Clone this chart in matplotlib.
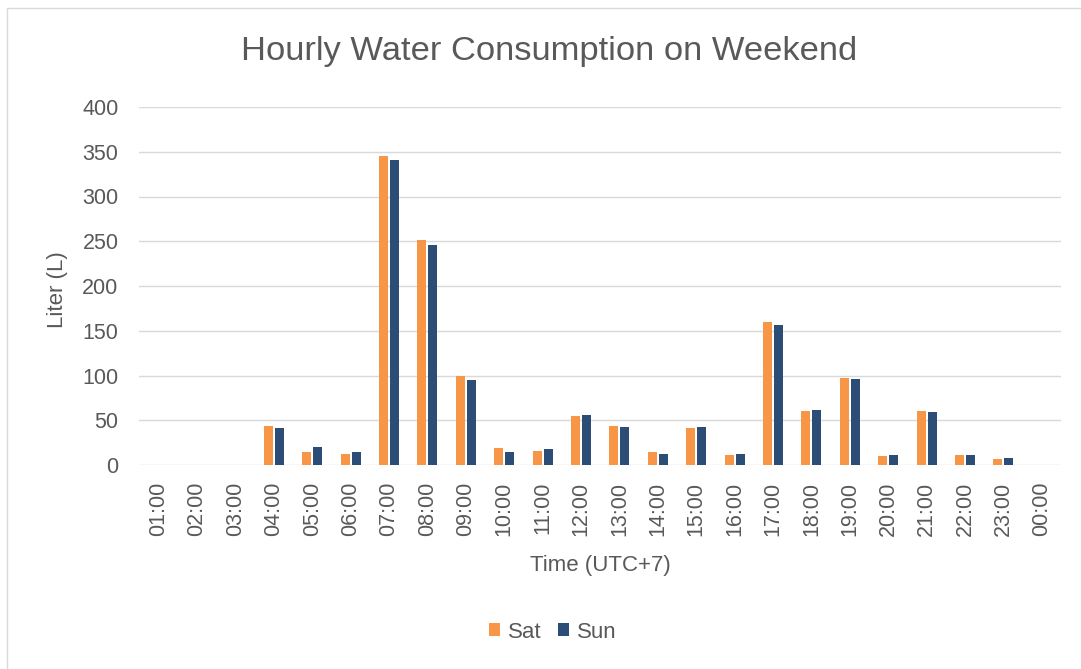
import matplotlib
matplotlib.use("Agg")
import matplotlib.pyplot as plt
from matplotlib.patches import Rectangle
import numpy as np

hours = ["01:00", "02:00", "03:00", "04:00", "05:00", "06:00", "07:00", "08:00",
         "09:00", "10:00", "11:00", "12:00", "13:00", "14:00", "15:00", "16:00",
         "17:00", "18:00", "19:00", "20:00", "21:00", "22:00", "23:00", "00:00"]
sat = [0, 0, 0, 44, 15, 12, 345, 251, 100, 19, 16, 55, 44, 15, 41, 11,
       160, 60, 97, 10, 60, 11, 7, 0]
sun = [0, 0, 0, 41, 20, 15, 341, 246, 95, 15, 18, 56, 43, 12, 42, 12,
       156, 62, 96, 11, 59, 11, 8, 0]
series_names = ["Sat", "Sun"]
yticks = [0, 50, 100, 150, 200, 250, 300, 350, 400]

TXT = "#595959"
C_SAT = "#F79646"
C_SUN = "#2C4D75"
FONT = "Liberation Sans"

plt.rcParams["font.family"] = [FONT, "DejaVu Sans"]

W, H = 1081, 669
fig = plt.figure(figsize=(W / 100, H / 100), dpi=100)
fig.patch.set_facecolor("white")

left, right, top, bottom = 139.4, 1061, 107, 465
ax = fig.add_axes([left / W, 1 - bottom / H, (right - left) / W, (bottom - top) / H])

x = np.arange(len(hours))
bw = 0.235
off = 0.145
b1 = ax.bar(x - off, sat, width=bw, color=C_SAT, label=series_names[0], zorder=3)
b2 = ax.bar(x + off, sun, width=bw, color=C_SUN, label=series_names[1], zorder=3)

ax.set_xlim(-0.5, len(hours) - 0.5)
ax.set_ylim(0, 400)
ax.set_yticks(yticks)
ax.set_yticklabels([str(v) for v in yticks])
ax.set_xticks(x)
ax.set_xticklabels(hours, rotation=90)
ax.grid(axis="y", color="#D9D9D9", linewidth=1.0, zorder=0)
ax.set_axisbelow(True)
for s in ax.spines.values():
    s.set_visible(False)
ax.tick_params(axis="both", length=0, colors=TXT, labelsize=15.5)
ax.tick_params(axis="y", pad=15)
ax.tick_params(axis="x", pad=12)

fig.text(549 / W, 1 - 60 / H, "Hourly Water Consumption on Weekend",
         ha="center", va="baseline", fontsize=24.8, color=TXT)
fig.text(600 / W, 1 - 565 / H, "Time (UTC+7)", ha="center", va="center",
         fontsize=16, color=TXT)
fig.text(58 / W, 1 - 290 / H, "Liter (L)", ha="center", va="center",
         rotation=90, fontsize=16, color=TXT)

leg = fig.legend(handles=[b1, b2], labels=series_names, loc="center",
                 bbox_to_anchor=(553 / W, 1 - 632 / H), ncol=2, frameon=False,
                 fontsize=16, handlelength=0.5, handleheight=0.5,
                 handletextpad=0.36, columnspacing=0.75, labelcolor=TXT)

fig.patches.append(Rectangle((6.5 / W, -0.1), 2, 1 - 8.5 / H + 0.1, fill=False,
                             edgecolor="#D9D9D9", linewidth=1.0,
                             transform=fig.transFigure, figure=fig))

fig.savefig("out.png", dpi=100, facecolor="white")
